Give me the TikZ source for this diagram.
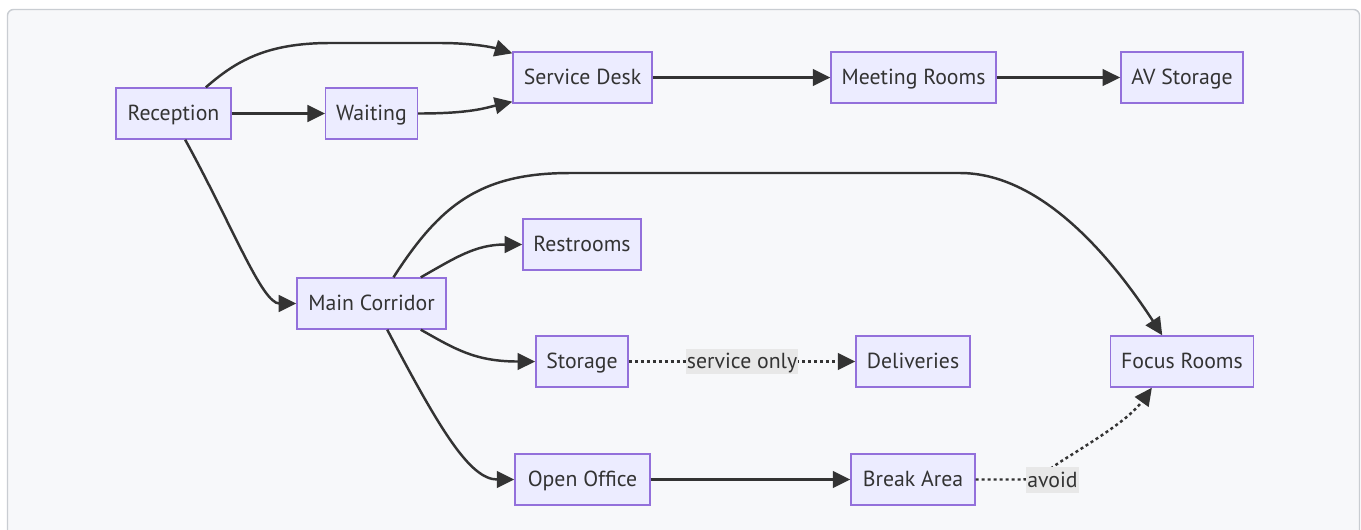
\documentclass[tikz,border=0pt]{standalone}
\usepackage{fontspec}
\setmainfont{PT Sans}
\usetikzlibrary{arrows.meta}

\definecolor{ink}{HTML}{333333}
\definecolor{roomfill}{HTML}{ECECFF}
\definecolor{roomline}{HTML}{9370DB}
\definecolor{tagfill}{HTML}{E8E8E8}
\definecolor{panelfill}{HTML}{F7F8FA}
\definecolor{panelline}{HTML}{C9CDD2}

\begin{document}
\begin{tikzpicture}[x=0.02cm, y=-0.02cm,
		room/.style={draw=roomline, fill=roomfill, line width=0.8pt, minimum height=1.02cm, inner xsep=0.21cm, text=ink, font=\fontsize{12.4}{14}\selectfont, text height=0.8em, text depth=0pt},
		flow/.style={draw=ink, line width=1.4pt, -{Triangle[length=10pt, width=9.5pt]}},
		dots/.style={flow, dash pattern=on 1.7pt off 1.7pt},
		tag/.style={fill=tagfill, inner xsep=0.5pt, minimum height=0.5cm, text=ink, font=\fontsize{12.4}{14}\selectfont, text height=0.8em, text depth=0pt}]
		
		\useasboundingbox (0,0) rectangle (1361,529);
		\fill[white] (0,0) rectangle (1361,529);
		\draw[fill=panelfill, draw=panelline, line width=0.8pt, rounded corners=0.12cm] (7.5,9.5) rectangle (1359.5,560);
		
		% rooms
		\node[room, minimum width=2.3cm] (rec) at (173.5,113.5) {Reception};
		\node[room, minimum width=1.82cm] (wait) at (371.5,113.5) {Waiting};
		\node[room, minimum width=2.78cm] (desk) at (582.5,77.5) {Service Desk};
		\node[room, minimum width=3.26cm] (meet) at (913.5,77.5) {Meeting Rooms};
		\node[room, minimum width=2.44cm] (av) at (1182,77.5) {AV Storage};
		\node[room, minimum width=2.36cm] (rest) at (582,244.5) {Restrooms};
		\node[room, minimum width=2.98cm] (corr) at (371.5,303.5) {Main Corridor};
		\node[room, minimum width=1.84cm] (stor) at (582,361.5) {Storage};
		\node[room, minimum width=2.28cm] (deliv) at (913,361.5) {Deliveries};
		\node[room, minimum width=2.8cm] (focus) at (1182,361.5) {Focus Rooms};
		\node[room, minimum width=2.7cm] (open) at (582.5,479.5) {Open Office};
		\node[room, minimum width=2.48cm] (brk) at (913,479.5) {Break Area};
		
		% front of house
		\draw[flow] (rec.39) .. controls (235,62) and (265,43) .. (330,43) -- (440,43) .. controls (475,43) and (495,48) .. (desk.161);
		\draw[flow] (rec) -- (wait);
		\draw[flow] (wait.east) .. controls (470,113.5) and (485,108) .. (desk.199);
		\draw[flow] (desk) -- (meet);
		\draw[flow] (meet) -- (av);
		\draw[flow] (rec.-66) .. controls (232,225) and (262,303.5) .. (corr.west);
		
		% corridor branches
		\draw[flow] (corr.50) .. controls (440,205) and (480,173) .. (570,173) -- (960,173) .. controls (1040,173) and (1110,255) .. (focus.127);
		\draw[flow] (corr.28) .. controls (455,258) and (475,244.5) .. (rest.west);
		\draw[flow] (corr.-28) .. controls (455,349) and (475,361.5) .. (stor.west);
		\draw[flow] (corr.-59) .. controls (440,430) and (470,479.5) .. (open.west);
		\draw[flow] (open) -- (brk);
		
		\draw[dots] (stor) -- node[tag] {service only} (deliv);
		\draw[dots] (brk.east) -- (1022,479.5) .. controls (1040,479.5) and (1045,472) .. (1060,462) .. controls (1100,437) and (1130,418) .. (focus.221);
		\node[tag] (avoid) at (1052.5,480) {avoid};
	\end{tikzpicture}
\end{document}
